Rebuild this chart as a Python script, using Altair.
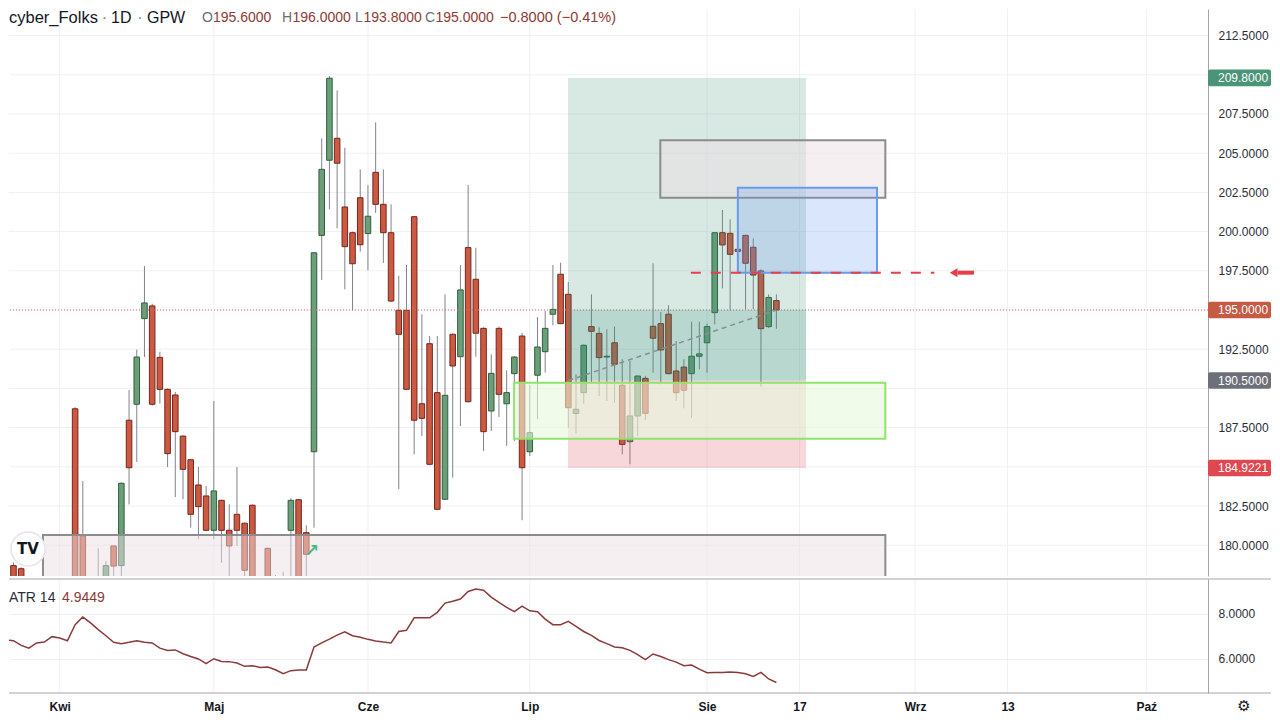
import altair as alt
import pandas as pd

# ---------------- values ----------------
bar_index = list(range(100))

opens = [
    178.7, 178.5, 175.0, 172.4, 176.2, 172.5, 177.0, 175.5, 188.7, 180.6,
    173.5, 176.0, 177.0, 179.95, 178.7, 187.97, 188.99, 194.45, 195.26, 191.98,
    189.94, 189.58, 186.96, 185.45, 183.84, 183.14, 180.95, 182.86, 180.95, 181.97,
    181.4, 182.55, 176.5, 179.8, 175.0, 177.4, 180.95, 182.9, 180.8, 185.96,
    199.76, 204.55, 205.95, 201.57, 199.93, 202.16, 199.87, 203.78, 201.74, 199.93,
    194.98, 194.98, 200.95, 189.02, 192.85, 189.73, 182.93, 193.45, 192.02, 198.98,
    196.96, 193.83, 188.56, 193.83, 189.02, 190.94, 193.34, 185.96, 190.84, 192.34,
    194.73, 197.28, 196.0, 188.4, 189.73, 193.94, 193.51, 192.0, 192.91, 190.2,
    186.6, 188.24, 190.64, 193.96, 194.13, 194.73, 191.11, 191.36, 190.94, 192.05,
    192.91, 194.83, 199.93, 199.89, 198.87, 199.76, 199.0, 197.49, 193.94, 195.6]
highs = [
    178.9, 178.6, 177.5, 177.0, 177.6, 177.8, 177.9, 177.5, 188.8, 184.1,
    176.5, 179.8, 179.0, 180.0, 184.0, 189.9, 192.47, 197.8, 195.4, 192.34,
    190.0, 189.77, 187.0, 185.5, 185.0, 183.78, 189.2, 182.9, 182.61, 184.99,
    181.45, 182.6, 177.8, 179.85, 178.1, 178.3, 183.0, 182.95, 181.27, 198.7,
    205.95, 209.92, 209.01, 205.35, 200.0, 203.97, 202.97, 206.97, 203.97, 201.74,
    197.19, 197.87, 201.0, 194.73, 193.34, 193.34, 196.0, 193.5, 197.87, 202.97,
    198.97, 193.9, 192.17, 193.94, 191.15, 192.05, 193.55, 190.22, 194.55, 194.94,
    197.87, 198.02, 196.79, 190.9, 192.8, 196.0, 193.9, 193.77, 193.94, 191.86,
    191.75, 190.8, 190.8, 197.98, 194.87, 195.3, 193.02, 191.86, 194.25, 194.25,
    194.13, 199.95, 201.38, 200.78, 198.9, 199.8, 199.57, 197.6, 196.0, 196.0]
lows = [
    173.0, 172.8, 171.5, 170.5, 171.0, 170.0, 173.0, 172.5, 172.0, 172.0,
    172.5, 175.8, 176.5, 177.0, 177.5, 182.6, 185.31, 192.0, 188.9, 189.03,
    184.99, 183.07, 182.93, 181.12, 180.38, 180.9, 180.38, 178.88, 176.9, 179.95,
    177.8, 175.5, 173.5, 174.0, 174.2, 175.3, 175.6, 177.0, 176.0, 181.12,
    196.91, 201.42, 200.21, 196.32, 194.98, 198.72, 197.53, 201.19, 198.0, 195.5,
    183.57, 189.9, 185.79, 186.96, 185.1, 182.25, 182.9, 184.31, 187.6, 189.1,
    192.02, 186.0, 187.28, 188.18, 186.33, 186.65, 181.59, 185.69, 188.03, 191.0,
    194.02, 194.1, 187.5, 187.11, 189.02, 190.4, 189.52, 189.2, 189.09, 185.8,
    185.16, 186.96, 187.98, 191.0, 190.26, 190.9, 189.2, 188.73, 188.13, 191.22,
    191.0, 194.09, 196.38, 194.98, 198.7, 195.05, 195.05, 190.1, 193.85, 193.8]
closes = [
    174.2, 175.0, 172.4, 176.2, 172.5, 177.0, 175.5, 176.8, 174.0, 173.5,
    175.8, 177.0, 178.7, 178.67, 183.95, 184.94, 192.0, 195.45, 188.99, 189.94,
    185.84, 187.24, 184.84, 181.97, 182.46, 180.95, 183.46, 180.95, 179.95, 180.95,
    178.4, 176.5, 175.2, 175.0, 177.4, 176.0, 182.86, 177.5, 179.42, 198.65,
    203.97, 209.78, 204.36, 199.04, 197.95, 199.16, 200.98, 201.74, 199.93, 195.57,
    193.45, 189.94, 187.97, 188.09, 185.16, 182.29, 189.56, 191.43, 196.28, 189.15,
    193.52, 187.24, 190.96, 189.62, 189.73, 192.0, 184.94, 187.18, 192.64, 193.83,
    195.04, 194.13, 188.77, 188.67, 192.75, 193.64, 191.96, 192.05, 191.54, 186.43,
    188.24, 190.79, 188.41, 193.2, 192.45, 190.94, 189.73, 189.88, 192.05, 192.2,
    193.94, 199.93, 199.15, 198.55, 198.74, 197.98, 197.23, 193.81, 195.8, 195.0]

atr_first_bar = -2
atr_values = [
    6.50, 6.84,
    6.80, 6.59, 6.47, 6.70, 6.74, 6.98, 6.92, 6.80, 7.51, 7.85,
    7.59, 7.29, 7.02, 6.73, 6.67, 6.73, 6.80, 6.73, 6.70, 6.47,
    6.37, 6.39, 6.22, 6.10, 5.99, 5.78, 6.00, 5.88, 5.87, 5.81,
    5.66, 5.69, 5.61, 5.63, 5.51, 5.33, 5.47, 5.50, 5.50, 6.52,
    6.70, 6.87, 7.05, 7.19, 7.02, 6.95, 6.86, 6.79, 6.74, 6.70,
    7.21, 7.26, 7.82, 7.82, 7.82, 8.06, 8.47, 8.55, 8.65, 8.99,
    9.10, 9.04, 8.74, 8.50, 8.28, 8.09, 8.34, 8.13, 8.09, 7.76,
    7.51, 7.51, 7.66, 7.44, 7.21, 7.04, 6.81, 6.67, 6.52, 6.49,
    6.37, 6.18, 5.96, 6.21, 6.10, 5.96, 5.85, 5.69, 5.72, 5.54,
    5.38, 5.39, 5.39, 5.41, 5.39, 5.33, 5.21, 5.39, 5.10, 4.9449]

month_pos = [6, 26, 46, 67, 90, 102, 117, 129, 147]
month_names = ["Kwi", "Maj", "Cze", "Lip", "Sie", "17", "Wrz", "13", "Paź"]
price_grid = [180.0, 182.5, 185.0, 187.5, 190.0, 192.5, 195.0, 197.5,
              200.0, 202.5, 205.0, 207.5, 210.0, 212.5]
# tick labels that stay visible (the rest sit under the coloured price tags)
price_labels = [180.0, 182.5, 187.5, 192.5, 197.5, 200.0, 202.5, 205.0, 207.5, 212.5]
atr_ticks = [6.0, 8.0]

# drawing tools on the chart (bar index / price anchors)
long_bars = [71.96, 102.85]
long_target, long_entry, long_stop = 209.8, 190.5, 184.9221
last_close = closes[-1]
green_zone = ([64.97, 113.14], [186.79, 190.36])
grey_zone = ([83.94, 113.14], [202.16, 205.82])
blue_zone = ([94.0, 112.06], [197.38, 202.8])
base_zone = ([3.83, 113.14], [170.0, 180.65])
alert_price = 197.38
alert_bars = [87.9, 119.5]
arrow_bars = [122.0, 124.65]
trend_bars = [72.0, 99.0]
trend_prices = [long_entry, last_close]

# ---------------- layout ----------------
W = 1199
H_PRICE = 567
H_ATR = 114
FONT = "Liberation Sans"
X_DOMAIN = [-0.579, 155.01]
P_DOMAIN = [178.036, 214.196]
A_DOMAIN = [4.476, 9.542]
GRID = "#eef0f4"
SEP = "#a3a6af"

XS = alt.Scale(domain=X_DOMAIN, nice=False, zero=False)
PS = alt.Scale(domain=P_DOMAIN, nice=False, zero=False)
AS = alt.Scale(domain=A_DOMAIN, nice=False, zero=False)

price_axis = alt.Axis(
    orient="right", values=price_labels, format=".4f", title=None,
    grid=False, domain=True, domainColor=SEP,
    ticks=False, tickSize=0, labelPadding=10, labelFontSize=12,
    labelFont=FONT, labelColor="#2a2e39", zindex=0)

names_js = ",".join("'" + n + "'" for n in month_names)
pos_js = ",".join(str(p) for p in month_pos)
x_axis = alt.Axis(
    orient="bottom", values=month_pos,
    labelExpr=f"[{names_js}][indexof([{pos_js}], datum.value)]",
    title=None, grid=False, domain=False, ticks=False, tickSize=0,
    labelPadding=8, labelFontSize=12, labelFont=FONT, labelFontWeight="bold",
    labelColor="#131722", labelFlush=False, labelOverlap=False, zindex=0)
atr_axis = alt.Axis(
    orient="right", values=atr_ticks, format=".4f", title=None,
    grid=True, gridColor=GRID, gridWidth=1, domain=True, domainColor=SEP,
    ticks=False, tickSize=0, labelPadding=10, labelFontSize=12,
    labelFont=FONT, labelColor="#2a2e39", zindex=0)


def xq(f):
    return alt.X(f, scale=XS, axis=None)


def pq(f):
    return alt.Y(f, scale=PS, axis=price_axis)


def one(text=""):
    return pd.DataFrame({"t": [text]})


def label(text, px, py, color, size, weight="normal", font=FONT, align="left"):
    return alt.Chart(one(text)).mark_text(
        align=align, baseline="middle", color=color, fontSize=size,
        font=font, fontWeight=weight
    ).encode(x=alt.value(px), y=alt.value(py), text="t:N")


def zone(xs, ys, fill, opacity, stroke=None, sw=0):
    df = pd.DataFrame({"x0": [xs[0]], "x1": [xs[1]], "y0": [ys[0]], "y1": [ys[1]]})
    kw = dict(fill=fill, fillOpacity=opacity, clip=True)
    if stroke:
        kw.update(stroke=stroke, strokeWidth=sw, strokeOpacity=1)
    return alt.Chart(df).mark_rect(**kw).encode(
        x=xq("x0:Q"), x2="x1:Q", y=pq("y0:Q"), y2="y1:Q")


def price_tag(p, color):
    df = pd.DataFrame({"p": [p], "t": [f"{p:.4f}"]})
    b = alt.Chart(df).transform_calculate(top="datum.p + 0.53", bot="datum.p - 0.53")
    box = b.mark_rect(color=color, cornerRadius=2).encode(
        x=alt.value(W), x2=alt.value(W + 63), y=pq("top:Q"), y2="bot:Q")
    txt = b.mark_text(align="left", baseline="middle", color="white",
                      fontSize=12, font=FONT).encode(
        x=alt.value(W + 10), y=pq("p:Q"), text="t:N")
    return [box, txt]


months = pd.DataFrame({"m": month_pos, "name": month_names})
candles = pd.DataFrame({"i": bar_index, "o": opens, "h": highs, "l": lows, "c": closes})

vgrid = alt.Chart(months).mark_rule(color=GRID, strokeWidth=1).encode(x=xq("m:Q"))
hgrid = alt.Chart(pd.DataFrame({"g": price_grid})).mark_rule(
    color=GRID, strokeWidth=1).encode(y=pq("g:Q"))

cbase = alt.Chart(candles).transform_calculate(
    lo="min(datum.o, datum.c)", hi="max(datum.o, datum.c)",
    x0="datum.i - 0.36", x1="datum.i + 0.36",
    dir="datum.c >= datum.o ? 'up' : 'down'")
wicks = cbase.mark_rule(color="#80838c", strokeWidth=1, clip=True).encode(
    x=xq("i:Q"), y=pq("l:Q"), y2="h:Q")
bodies = cbase.mark_rect(strokeWidth=1, clip=True).encode(
    x=xq("x0:Q"), x2="x1:Q", y=pq("lo:Q"), y2="hi:Q",
    fill=alt.Fill("dir:N", scale=alt.Scale(domain=["up", "down"],
                                           range=["#6b9f7a", "#cc5a43"]), legend=None),
    stroke=alt.Stroke("dir:N", scale=alt.Scale(domain=["up", "down"],
                                               range=["#2f5e3d", "#74261b"]), legend=None))

price_line = alt.Chart(pd.DataFrame({"p": [last_close]})).mark_rule(
    color="#d9735f", strokeWidth=1, strokeDash=[1, 2]).encode(y=pq("p:Q"))

target_zone = zone(long_bars, [long_entry, long_target], "#3d8f7a", 0.2)
open_zone = zone(long_bars, [long_entry, last_close], "#3d8f7a", 0.2)
stop_zone = zone(long_bars, [long_stop, long_entry], "#e0475a", 0.22)

trend = alt.Chart(pd.DataFrame({"x": trend_bars, "y": trend_prices})).mark_line(
    color="#8a8d96", strokeWidth=1.5, strokeDash=[5, 4], clip=True).encode(
    x=xq("x:Q"), y=pq("y:Q"))

g_zone = zone(*green_zone, "#e6f8da", 0.6, stroke="#90e36c", sw=2)
b_zone = zone(*base_zone, "#ebe0e3", 0.5, stroke="#8c8c8c", sw=2)
gr_zone = zone(*grey_zone, "#ebe0e3", 0.5, stroke="#8c8c8c", sw=2)
bl_zone = zone(*blue_zone, "#6d9bf1", 0.25, stroke="#6a9af0", sw=2)

alert = alt.Chart(pd.DataFrame({"x0": [alert_bars[0]], "x1": [alert_bars[1]],
                                "y": [alert_price]})).mark_rule(
    color="#e5404a", strokeWidth=2, strokeDash=[10, 10]).encode(
    x=xq("x0:Q"), x2="x1:Q", y=pq("y:Q"))
arrow_shaft = alt.Chart(pd.DataFrame({"x0": [arrow_bars[0] + 0.5], "x1": [arrow_bars[1]],
                                      "y": [alert_price]})).mark_rule(
    color="#e5404a", strokeWidth=4).encode(x=xq("x0:Q"), x2="x1:Q", y=pq("y:Q"))
arrow_head = alt.Chart(pd.DataFrame({"x": [arrow_bars[0]], "y": [alert_price]})).mark_point(
    shape="triangle-left", filled=True, size=80, color="#e5404a", opacity=1).encode(
    x=xq("x:Q"), y=pq("y:Q"))

logo_circle = alt.Chart(one()).mark_point(
    shape="circle", filled=True, fill="white", stroke="#e3e5ea", strokeWidth=1.5,
    size=1156, opacity=1, fillOpacity=1).encode(x=alt.value(19), y=alt.value(540))
logo_text = label("TV", 19, 540, "#131722", 15, weight="bold", font="DejaVu Sans", align="center")
green_icon = label("↗", 303, 542, "#4cb782", 17, weight="bold", font="DejaVu Sans", align="center")

header = [
    label("cyber_Folks", 0, 9, "#131722", 16.5),
    label("·", 95.5, 9, "#787b86", 16, align="center"),
    label("1D", 102, 9, "#131722", 16),
    label("·", 131, 9, "#787b86", 16, align="center"),
    label("GPW", 138, 9, "#131722", 16),
]
ohlc_letters = ["O", "H", "L", "C"]
ohlc_vals = [opens[-1], highs[-1], lows[-1], closes[-1]]
letter_x = [193, 273, 346, 416]
letter_gap = [11, 10.5, 8.5, 10.5]
for letter, val, lx, gap in zip(ohlc_letters, ohlc_vals, letter_x, letter_gap):
    header.append(label(letter, lx, 9, "#6a6d78", 14))
    header.append(label(f"{val:.4f}", lx + gap, 9, "#8c3b35", 14))
chg = closes[-1] - closes[-2]
pct = chg / closes[-2] * 100
sign = "−" if chg < 0 else "+"
header.append(label(f"{sign}{abs(chg):.4f} ({sign}{abs(pct):.2f}%)", 491, 9, "#8c3b35", 14.5))

tags = []
for p, col in [(long_target, "#4a9478"), (last_close, "#c65a43"),
               (long_entry, "#6e7079"), (long_stop, "#e0474f")]:
    tags += price_tag(p, col)

price_chart = alt.layer(
    vgrid, hgrid, wicks, bodies, price_line,
    target_zone, open_zone, stop_zone, trend,
    g_zone, b_zone, gr_zone, bl_zone,
    alert, arrow_shaft, arrow_head,
    logo_circle, logo_text, green_icon,
    *header, *tags
).properties(width=W, height=H_PRICE)

# ---------------- ATR panel ----------------
atr_df = pd.DataFrame({"i": list(range(atr_first_bar, atr_first_bar + len(atr_values))),
                       "v": atr_values})
atr_grid = alt.Chart(months).mark_rule(color=GRID, strokeWidth=1).encode(
    x=alt.X("m:Q", scale=XS, axis=x_axis))
atr_line = alt.Chart(atr_df).mark_line(color="#8b3a3a", strokeWidth=1.5, clip=True).encode(
    x=alt.X("i:Q", scale=XS, axis=x_axis), y=alt.Y("v:Q", scale=AS, axis=atr_axis))
sep_top = alt.Chart(one()).mark_rule(color=SEP, strokeWidth=1).encode(
    x=alt.value(0), x2=alt.value(W + 63), y=alt.value(0))
sep_bot = alt.Chart(one()).mark_rule(color=SEP, strokeWidth=1).encode(
    x=alt.value(0), x2=alt.value(W + 63), y=alt.value(H_ATR))
atr_title = label("ATR 14", 0, 19, "#2a2e39", 14)
atr_value = label(f"{atr_values[-1]:.4f}", 53, 19, "#8b3a3a", 14)
gear = label("⚙", 1235, 127, "#131722", 15, font="DejaVu Sans", align="center")

atr_chart = alt.layer(
    atr_grid, atr_line, sep_top, sep_bot, atr_title, atr_value, gear
).properties(width=W, height=H_ATR)

chart = alt.vconcat(price_chart, atr_chart, spacing=1).properties(
    padding=0, background="white"
).configure_view(stroke=None)

chart.save("out.html", embed_options={"renderer": "svg", "actions": False})
